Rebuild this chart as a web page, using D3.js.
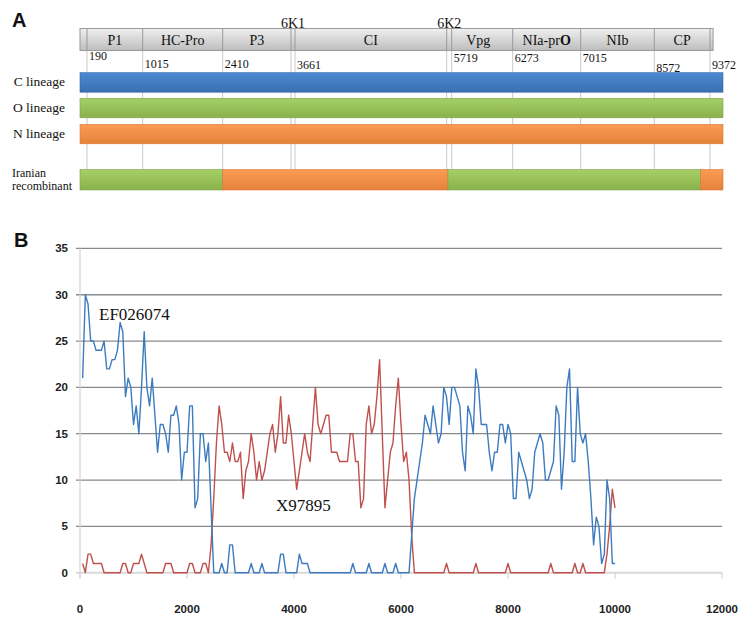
<!DOCTYPE html>
<html>
<head>
<meta charset="utf-8">
<script src="https://cdn.jsdelivr.net/npm/d3@7"></script>
<style>
  body { margin: 0; background: #fff; }
  .serif { font-family: "Liberation Serif", "Times New Roman", serif; fill: #111; }
  .tick-lbl { font-family: "Liberation Sans", Arial, sans-serif; font-weight: bold; font-size: 11.5px; fill: #222; }
  .panel { font-family: "Liberation Sans", Arial, sans-serif; font-weight: bold; font-size: 20px; fill: #111; }
</style>
</head>
<body>
<div id="chart"></div>
<script>
// Data
// =================================
// genome map (panel A): gene names and start positions (nt)
const geneNames = ["P1", "HC-Pro", "P3", "6K1", "CI", "6K2", "Vpg", "NIa-prO", "NIb", "CP"];
const geneStarts = [190, 1015, 2410, 3506, 3661, 5564, 5719, 6273, 7015, 8572];
const geneEnd = 9372;
const startLabels = ["190", "1015", "2410", "3661", "5719", "6273", "7015", "8572", "9372"];
const startLabelNt = [190, 1015, 2410, 3661, 5719, 6273, 7015, 8572, 9372];

const lineages = ["C lineage", "O lineage", "N lineage"];
// Iranian recombinant: segment breakpoints (nt) and parent lineage of each segment
const recombBreaks = [0, 2410, 5604, 9238, 9700];
const recombParents = ["O lineage", "N lineage", "O lineage", "N lineage"];

// panel B: sliding window, step 50 nt
const windowPos = d3.range(50, 10001, 50);
const ef026074 = [
  21, 30, 29, 25, 25, 24, 24, 24, 25, 22,
  22, 23, 23, 24, 27, 26, 19, 21, 20, 16,
  18, 15, 20, 26, 20, 18, 21, 17, 13, 16,
  16, 15, 13, 17, 17, 18, 16, 10, 13, 13,
  18, 18, 7, 8, 15, 15, 12, 14, 7, 0,
  0, 0, 1, 0, 0, 3, 3, 0, 0, 0,
  0, 0, 0, 1, 0, 0, 0, 1, 0, 0,
  0, 0, 0, 0, 2, 2, 0, 0, 0, 0,
  0, 2, 1, 1, 1, 0, 0, 0, 0, 0,
  0, 0, 0, 0, 0, 0, 0, 0, 0, 0,
  0, 1, 0, 0, 0, 0, 0, 1, 0, 0,
  0, 0, 0, 1, 0, 0, 0, 1, 0, 0,
  0, 0, 0, 4, 8, 10, 12, 14, 17, 16,
  15, 18, 16, 14, 15, 20, 19, 16, 20, 20,
  19, 18, 13, 11, 18, 17, 15, 22, 20, 16,
  16, 16, 13, 11, 13, 13, 16, 16, 14, 16,
  15, 8, 8, 13, 12, 11, 10, 8, 9, 13,
  14, 15, 14, 10, 10, 11, 12, 18, 17, 9,
  13, 20, 22, 12, 12, 20, 15, 14, 15, 12,
  8, 3, 6, 5, 1, 2, 10, 8, 1, 1
];
const x97895 = [
  1, 0, 2, 2, 1, 1, 1, 1, 0, 0,
  0, 0, 0, 0, 0, 1, 1, 0, 0, 1,
  1, 1, 2, 1, 0, 0, 0, 0, 0, 0,
  0, 1, 1, 1, 0, 0, 0, 0, 0, 0,
  1, 1, 0, 0, 0, 1, 1, 0, 3, 8,
  14, 18, 16, 13, 13, 12, 14, 12, 12, 13,
  8, 11, 12, 15, 13, 10, 12, 10, 11, 13,
  15, 16, 13, 15, 19, 14, 14, 17, 15, 12,
  9, 11, 13, 15, 13, 12, 16, 20, 16, 15,
  16, 17, 17, 13, 13, 13, 12, 12, 12, 12,
  15, 15, 12, 12, 7, 8, 16, 18, 15, 16,
  19, 23, 15, 7, 10, 13, 14, 18, 21, 16,
  12, 13, 10, 4, 0, 0, 0, 0, 0, 0,
  0, 0, 0, 0, 0, 0, 1, 0, 0, 0,
  0, 0, 0, 0, 0, 0, 0, 1, 0, 0,
  0, 0, 0, 0, 0, 0, 0, 0, 0, 1,
  0, 0, 0, 0, 0, 0, 0, 0, 0, 0,
  0, 0, 0, 0, 0, 1, 0, 0, 0, 0,
  0, 0, 0, 0, 1, 0, 0, 1, 0, 0,
  0, 0, 0, 0, 0, 0, 2, 5, 9, 7
];
const xTicks = [0, 2000, 4000, 6000, 8000, 10000, 12000];
const yTicks = [0, 5, 10, 15, 20, 25, 30, 35];

// Set up
// =================================
const svgWidth = 748;
const svgHeight = 623;

const svg = d3.select("#chart")
  .append("svg")
  .attr("width", svgWidth)
  .attr("height", svgHeight);

const defs = svg.append("defs");
function vGrad(id, top, bottom) {
  const g = defs.append("linearGradient").attr("id", id)
    .attr("x1", 0).attr("y1", 0).attr("x2", 0).attr("y2", 1);
  g.append("stop").attr("offset", "0%").attr("stop-color", top);
  g.append("stop").attr("offset", "100%").attr("stop-color", bottom);
}
vGrad("gBox", "#f0f0f0", "#bdbdbd");
vGrad("gC", "#4d8ad2", "#3a6fb2");
vGrad("gO", "#a6d067", "#89b14c");
vGrad("gN", "#f99c55", "#e6823a");
const lineageFill = { "C lineage": "url(#gC)", "O lineage": "url(#gO)", "N lineage": "url(#gN)" };
const lineageEdge = { "C lineage": "#3468a8", "O lineage": "#7fa444", "N lineage": "#d87a36" };

// Panel A: genome map
// =================================
// schematic (not to scale) nt -> px mapping of the drawing
const mapX = d3.scaleLinear()
  .domain([0, 190, 1015, 2410, 3506, 3661, 5564, 5719, 6273, 7015, 8572, 9372, 9700])
  .range([80, 87, 142.7, 222.7, 291, 295, 446.7, 451.7, 512.7, 580.7, 654.3, 710, 723]);
const boxEndNt = 9450;
const boxTop = 28.5, boxBot = 50.5;
const rowTop = { "C lineage": 72.7, "O lineage": 98.3, "N lineage": 124.3 };
const recombTop = 169.5;
const barH = 19.5;

svg.append("text").attr("class", "panel").attr("x", 12).attr("y", 27).text("A");

// light divider lines running down through the bars
svg.append("g").selectAll("line")
  .data(geneStarts.concat([geneEnd]))
  .enter().append("line")
  .attr("x1", d => mapX(d)).attr("x2", d => mapX(d))
  .attr("y1", boxBot).attr("y2", recombTop)
  .attr("stroke", "#c9c9c9").attr("stroke-width", 1);

svg.append("rect")
  .attr("x", mapX(0)).attr("y", boxTop)
  .attr("width", mapX(boxEndNt) - mapX(0)).attr("height", boxBot - boxTop)
  .attr("fill", "url(#gBox)").attr("stroke", "#9a9a9a").attr("stroke-width", 1);

svg.append("g").selectAll("line")
  .data(geneStarts.concat([geneEnd]))
  .enter().append("line")
  .attr("x1", d => mapX(d)).attr("x2", d => mapX(d))
  .attr("y1", boxTop).attr("y2", boxBot)
  .attr("stroke", "#9a9a9a").attr("stroke-width", 1);

const geneData = geneNames.map((n, i) => ({
  name: n, start: geneStarts[i], end: i < geneNames.length - 1 ? geneStarts[i + 1] : geneEnd
}));

svg.append("g").selectAll("text")
  .data(geneData.filter(d => d.name.indexOf("6K") !== 0))
  .enter().append("text")
  .attr("class", "serif")
  .attr("x", d => (mapX(d.start) + mapX(d.end)) / 2 - (d.name === "Vpg" ? 4 : 0))
  .attr("y", 45)
  .attr("text-anchor", "middle")
  .style("font-size", "14px")
  .each(function(d) {
    const t = d3.select(this);
    if (d.name === "NIa-prO") {
      t.append("tspan").text("NIa-pr");
      t.append("tspan").style("font-weight", "bold").text("O");
    } else {
      t.text(d.name);
    }
  });

// 6K1 / 6K2 labels sit above the box
svg.append("g").selectAll("text")
  .data(geneData.filter(d => d.name.indexOf("6K") === 0))
  .enter().append("text")
  .attr("class", "serif")
  .attr("x", d => (mapX(d.start) + mapX(d.end)) / 2)
  .attr("y", 28)
  .attr("text-anchor", "middle")
  .style("font-size", "14px")
  .text(d => d.name);

// start positions under the box (vertical offsets as in the figure)
const labelBaseline = [60, 68, 68, 69, 62, 62, 62, 72, 69];
svg.append("g").selectAll("text")
  .data(startLabels)
  .enter().append("text")
  .attr("class", "serif")
  .attr("x", (d, i) => mapX(startLabelNt[i]) + 2)
  .attr("y", (d, i) => labelBaseline[i])
  .style("font-size", "12px")
  .text(d => d);

// lineage bars
svg.append("g").selectAll("rect")
  .data(lineages)
  .enter().append("rect")
  .attr("x", mapX(0)).attr("y", d => rowTop[d])
  .attr("width", mapX(9700) - mapX(0)).attr("height", barH)
  .attr("fill", d => lineageFill[d])
  .attr("stroke", d => lineageEdge[d]).attr("stroke-width", 0.6);

svg.append("g").selectAll("text")
  .data(lineages)
  .enter().append("text")
  .attr("class", "serif")
  .attr("x", 65).attr("y", d => rowTop[d] + 13.5)
  .attr("text-anchor", "end")
  .style("font-size", "13.5px")
  .text(d => d);

// recombinant
const recombSegs = recombParents.map((p, i) => ({ parent: p, start: recombBreaks[i], end: recombBreaks[i + 1] }));
svg.append("g").selectAll("rect")
  .data(recombSegs)
  .enter().append("rect")
  .attr("x", d => mapX(d.start)).attr("y", recombTop)
  .attr("width", d => mapX(d.end) - mapX(d.start)).attr("height", barH + 1)
  .attr("fill", d => lineageFill[d.parent])
  .attr("stroke", d => lineageEdge[d.parent]).attr("stroke-width", 0.6);

svg.append("text").attr("class", "serif").attr("x", 12).attr("y", 177)
  .style("font-size", "12px").text("Iranian");
svg.append("text").attr("class", "serif").attr("x", 12).attr("y", 190)
  .style("font-size", "12px").text("recombinant");

// Panel B: line chart
// =================================
const xScale = d3.scaleLinear().domain([0, 12000]).range([80, 722]);
const yScale = d3.scaleLinear().domain([0, 35]).range([572.7, 248.4]);

svg.append("text").attr("class", "panel").attr("x", 14).attr("y", 247).text("B");

// gridlines
svg.append("g").selectAll("line")
  .data(yTicks.filter(d => d > 0))
  .enter().append("line")
  .attr("x1", 76).attr("x2", xScale(12000))
  .attr("y1", d => yScale(d)).attr("y2", d => yScale(d))
  .attr("stroke", "#8a8a8a").attr("stroke-width", 1.3);

// axes
svg.append("line")
  .attr("x1", xScale(0)).attr("x2", xScale(0))
  .attr("y1", yScale(35)).attr("y2", yScale(0) + 5)
  .attr("stroke", "#d4d4d4").attr("stroke-width", 1.2);
svg.append("line")
  .attr("x1", 76).attr("x2", xScale(12000))
  .attr("y1", yScale(0)).attr("y2", yScale(0))
  .attr("stroke", "#d9d9d9").attr("stroke-width", 2);
svg.append("g").selectAll("line")
  .data(xTicks)
  .enter().append("line")
  .attr("x1", d => xScale(d)).attr("x2", d => xScale(d))
  .attr("y1", yScale(0)).attr("y2", yScale(0) + 6)
  .attr("stroke", "#d4d4d4").attr("stroke-width", 1.2);

svg.append("g").selectAll("text")
  .data(yTicks)
  .enter().append("text")
  .attr("class", "tick-lbl")
  .attr("x", 68).attr("y", d => yScale(d) + 4)
  .attr("text-anchor", "end")
  .text(d => d);

svg.append("g").selectAll("text")
  .data(xTicks)
  .enter().append("text")
  .attr("class", "tick-lbl")
  .attr("x", d => xScale(d)).attr("y", 613)
  .attr("text-anchor", "middle")
  .text(d => d);

// series
const line = d3.line()
  .x((d, i) => xScale(windowPos[i]))
  .y(d => yScale(d));

svg.append("path")
  .datum(x97895)
  .attr("d", line)
  .attr("fill", "none")
  .attr("stroke", "#c0504d")
  .attr("stroke-width", 1.4)
  .attr("stroke-linejoin", "round");

svg.append("path")
  .datum(ef026074)
  .attr("d", line)
  .attr("fill", "none")
  .attr("stroke", "#3d7bc1")
  .attr("stroke-width", 1.4)
  .attr("stroke-linejoin", "round");

// series labels
svg.append("text").attr("class", "serif")
  .attr("x", 99).attr("y", 320)
  .style("font-size", "17px")
  .text("EF026074");
svg.append("text").attr("class", "serif")
  .attr("x", 276).attr("y", 511)
  .style("font-size", "17px")
  .text("X97895");
</script>
</body>
</html>
